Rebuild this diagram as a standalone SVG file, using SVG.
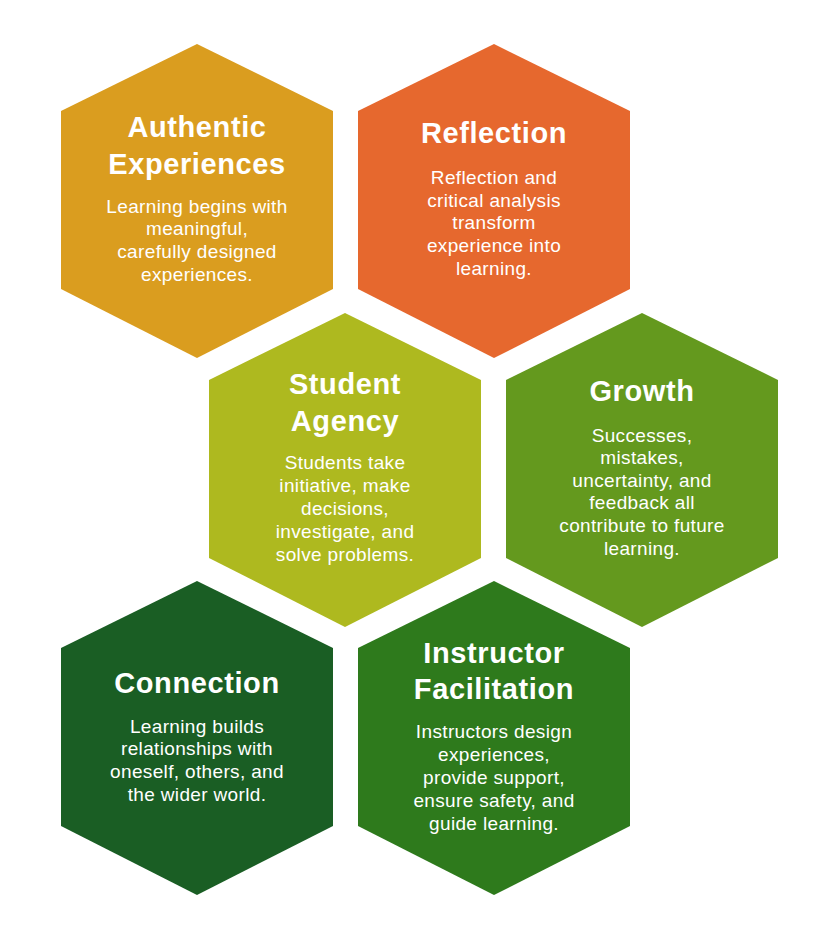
<svg xmlns="http://www.w3.org/2000/svg" width="832" height="937" viewBox="0 0 832 937">
<style>
.t{font-family:"Liberation Sans",Arial,sans-serif;font-weight:700;font-size:29px;letter-spacing:0.6px;fill:#fff;text-anchor:middle}
.b{font-family:"Liberation Sans",Arial,sans-serif;font-weight:400;font-size:19px;letter-spacing:0.35px;fill:#fff;text-anchor:middle}
</style>
<defs>
<polygon id="hex" points="0,0 136,67 136,245 0,314 -136,245 -136,67"/>
</defs>
<rect width="832" height="937" fill="#fff"/>
<g id="connectors"></g>
<g id="authentic">
<use href="#hex" x="197" y="44" fill="#DA9D1F"/>
<text class="t" x="197" y="137">Authentic</text>
<text class="t" x="197" y="174">Experiences</text>
<text class="b" x="197" y="213">Learning begins with</text>
<text class="b" x="197" y="235">meaningful,</text>
<text class="b" x="197" y="258">carefully designed</text>
<text class="b" x="197" y="281">experiences.</text>
</g>
<g id="reflection">
<use href="#hex" x="494" y="44" fill="#E6682E"/>
<text class="t" x="494" y="143">Reflection</text>
<text class="b" x="494" y="184">Reflection and</text>
<text class="b" x="494" y="207">critical analysis</text>
<text class="b" x="494" y="229">transform</text>
<text class="b" x="494" y="252">experience into</text>
<text class="b" x="494" y="275">learning.</text>
</g>
<g id="agency">
<use href="#hex" x="345" y="313" fill="#AEB91F"/>
<text class="t" x="345" y="394">Student</text>
<text class="t" x="345" y="431">Agency</text>
<text class="b" x="345" y="469">Students take</text>
<text class="b" x="345" y="492">initiative, make</text>
<text class="b" x="345" y="515">decisions,</text>
<text class="b" x="345" y="538">investigate, and</text>
<text class="b" x="345" y="561">solve problems.</text>
</g>
<g id="growth">
<use href="#hex" x="642" y="313" fill="#64991E"/>
<text class="t" x="642" y="401">Growth</text>
<text class="b" x="642" y="442">Successes,</text>
<text class="b" x="642" y="464">mistakes,</text>
<text class="b" x="642" y="487">uncertainty, and</text>
<text class="b" x="642" y="509">feedback all</text>
<text class="b" x="642" y="532">contribute to future</text>
<text class="b" x="642" y="555">learning.</text>
</g>
<g id="connection">
<use href="#hex" x="197" y="581" fill="#1A5E24"/>
<text class="t" x="197" y="693">Connection</text>
<text class="b" x="197" y="733">Learning builds</text>
<text class="b" x="197" y="755">relationships with</text>
<text class="b" x="197" y="778">oneself, others, and</text>
<text class="b" x="197" y="801">the wider world.</text>
</g>
<g id="facilitation">
<use href="#hex" x="494" y="581" fill="#2E7A1C"/>
<text class="t" x="494" y="663">Instructor</text>
<text class="t" x="494" y="699">Facilitation</text>
<text class="b" x="494" y="738">Instructors design</text>
<text class="b" x="494" y="761">experiences,</text>
<text class="b" x="494" y="784">provide support,</text>
<text class="b" x="494" y="807">ensure safety, and</text>
<text class="b" x="494" y="830">guide learning.</text>
</g>
</svg>
